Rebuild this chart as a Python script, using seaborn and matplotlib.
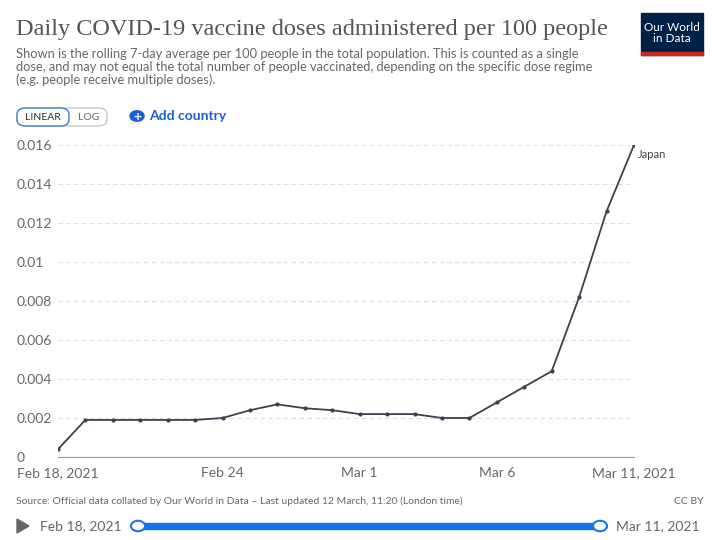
import matplotlib
matplotlib.use("Agg")
import matplotlib.pyplot as plt
import seaborn as sns
import pandas as pd
import numpy as np
from matplotlib.patches import FancyBboxPatch, Circle

dates = pd.date_range("2021-02-18", "2021-03-11")
values = [0.0004, 0.0019, 0.0019, 0.0019, 0.0019, 0.0019, 0.0020, 0.0024, 0.0027, 0.0025, 0.0024,
          0.0022, 0.0022, 0.0022, 0.0020, 0.0020, 0.0028, 0.0036, 0.0044, 0.0082, 0.0126, 0.0160]
yticks = [0, 0.002, 0.004, 0.006, 0.008, 0.01, 0.012, 0.014, 0.016]
ytick_labels = ["0", "0.002", "0.004", "0.006", "0.008", "0.01", "0.012", "0.014", "0.016"]
xtick_dates = ["2021-02-18", "2021-02-24", "2021-03-01", "2021-03-06", "2021-03-11"]
xtick_labels = ["Feb 18, 2021", "Feb 24", "Mar 1", "Mar 6", "Mar 11, 2021"]

df = pd.DataFrame({"date": dates, "v": values})
sns.set_style("white")
plt.rcParams['font.family'] = ['Lato', 'DejaVu Sans']
fig = plt.figure(figsize=(7.2, 5.4), dpi=100)
ax = fig.add_axes([58/720, 1-457/540, 576/720, 312/540])
sns.lineplot(data=df, x="date", y="v", ax=ax, color="#3c4150", lw=1.3, marker="o", markersize=3, markeredgewidth=0)
ax.set_ylim(0, 0.016)
ax.set_xlim(dates[0], dates[-1])
ax.set_yticks(yticks)
ax.set_yticklabels(ytick_labels)
ax.set_xticks(pd.to_datetime(xtick_dates))
ax.set_xticklabels(xtick_labels)
ax.set_xlabel(""); ax.set_ylabel("")
for y in yticks[1:]:
    ax.axhline(y, color="#dddddd", lw=0.8, ls=(0, (4, 3)), zorder=0)
for s in ["top", "right", "left"]:
    ax.spines[s].set_visible(False)
ax.spines["bottom"].set_color("#999999")
ax.tick_params(axis="y", length=0, labelsize=10, colors="#666666", pad=30)
for lab in ax.get_yticklabels():
    lab.set_horizontalalignment("left")
ax.tick_params(axis="x", length=4, color="#999999", labelsize=10, colors="#666666")
ax.text(dates[-1] + pd.Timedelta(hours=3), 0.0155, "Japan", fontsize=8, color="#444444", va="center")

fig.text(16/720, 1-30/540, "Daily COVID-19 vaccine doses administered per 100 people", fontsize=17.5,
         family=["Liberation Serif"], color="#555555", va="center")
fig.text(16/720, 1-67/540, "Shown is the rolling 7-day average per 100 people in the total population. This is counted as a single\n"
         "dose, and may not equal the total number of people vaccinated, depending on the specific dose regime\n"
         "(e.g. people receive multiple doses).", fontsize=9.3, color="#666666", va="center", linespacing=1.05)
fig.patches.append(plt.Rectangle((641/720, 1-55/540), 62/720, 42/540, transform=fig.transFigure, color="#002147"))
fig.patches.append(plt.Rectangle((641/720, 1-55/540), 62/720, 3/540, transform=fig.transFigure, color="#ce261e"))
fig.text(672/720, 1-33/540, "Our World\nin Data", fontsize=8.5, color="white", ha="center", va="center", linespacing=1.0)
fig.patches.append(FancyBboxPatch((17/720, 1-126/540), 90/720, 18/540, boxstyle="round,pad=0,rounding_size=0.012",
                                  transform=fig.transFigure, fc="white", ec="#bbbbbb", lw=0.8))
fig.patches.append(FancyBboxPatch((17/720, 1-126/540), 52/720, 18/540, boxstyle="round,pad=0,rounding_size=0.012",
                                  transform=fig.transFigure, fc="white", ec="#3b7dd8", lw=1))
fig.text(43/720, 1-117/540, "LINEAR", fontsize=7.5, color="#333333", ha="center", va="center")
fig.text(89/720, 1-117/540, "LOG", fontsize=7.5, color="#666666", ha="center", va="center")
fig.patches.append(Circle((137/720, 1-116/540), 7/720, transform=fig.transFigure, color="#1a5fd8"))
fig.text(137/720, 1-116.5/540, "+", fontsize=10, color="white", ha="center", va="center", weight="bold")
fig.text(149/720, 1-116/540, "Add country", fontsize=10, color="#1a5fd8", va="center", weight="bold")
fig.text(16/720, 1-501/540, "Source: Official data collated by Our World in Data – Last updated 12 March, 11:20 (London time)",
         fontsize=7.5, color="#666666", va="center")
fig.text(703/720, 1-501/540, "CC BY", fontsize=7.5, color="#666666", va="center", ha="right")
fig.patches.append(plt.Polygon([[17/720, 1-519/540], [17/720, 1-533/540], [29/720, 1-526/540]],
                               transform=fig.transFigure, color="#666666"))
fig.text(40/720, 1-526/540, "Feb 18, 2021", fontsize=10, color="#666666", va="center")
fig.patches.append(plt.Rectangle((138/720, 1-529/540), 462/720, 6/540, transform=fig.transFigure, color="#1a73e8"))
for cx in (138, 600):
    fig.patches.append(Circle((cx/720, 1-526/540), 7/720, transform=fig.transFigure, fc="white", ec="#1a73e8", lw=1.5))
fig.text(616/720, 1-526/540, "Mar 11, 2021", fontsize=10, color="#666666", va="center")
fig.savefig("out.png", dpi=100)
